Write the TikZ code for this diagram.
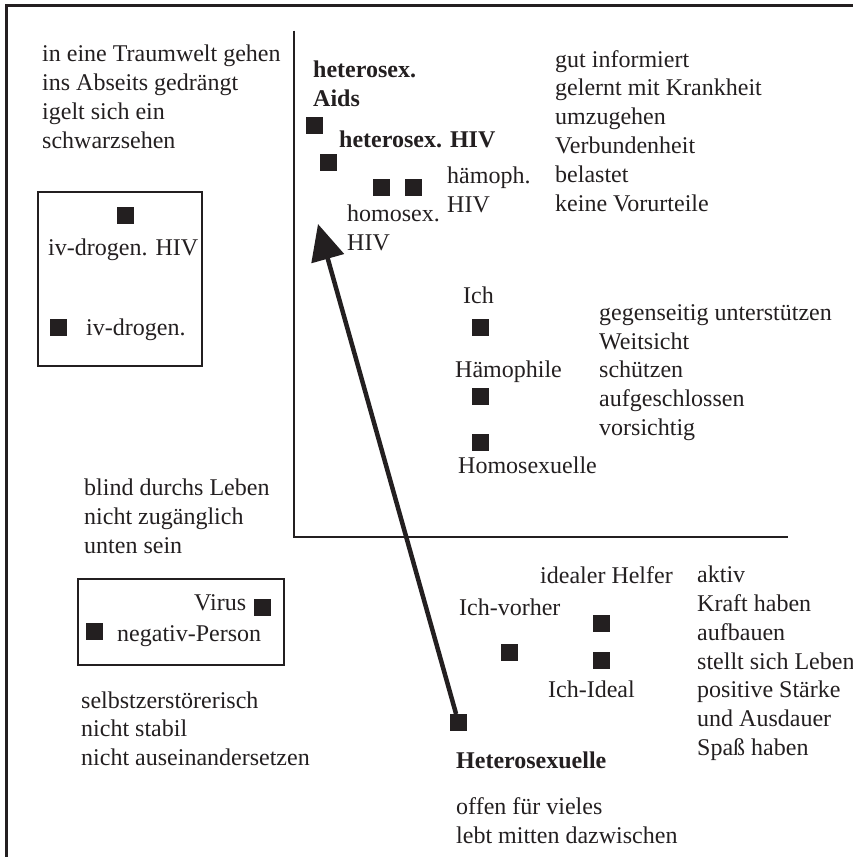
\documentclass[tikz,border=0pt]{standalone}
\usepackage{fontspec}
\setmainfont{Liberation Serif}
\usetikzlibrary{arrows.meta}
\definecolor{ink}{HTML}{231F20}
\begin{document}
\begin{tikzpicture}[x=1pt,y=-1pt,
  % multi-line texts are anchored at the baseline of their last line
  txt/.style={anchor=base west, inner sep=0pt, align=left, text=ink,
    font=\fontsize{24}{28.8}\selectfont},
  bold/.style={txt, font=\fontsize{24}{28.8}\selectfont\bfseries},
  sq/.style={fill=ink, minimum size=17pt, inner sep=0pt, outer sep=0pt},
  frame/.style={draw=ink, line width=2.6pt},
  axis/.style={draw=ink, line width=2pt},
  group/.style={draw=ink, line width=2.2pt},
  arrowline/.style={draw=ink, line width=4.5pt,
    -{Triangle[length=36pt,width=33pt]}}
]
\useasboundingbox (0,0) rectangle (853,857);

% outer frame (top and left edges)
\draw[frame] (6.5,857) -- (6.5,5.5) -- (853,5.5);

% axes
\draw[axis] (294.3,30.5) -- (294.3,536.7) -- (788,536.7);

% group boxes
\draw[group] (38,192) rectangle (202,366);
\draw[group] (78,579) rectangle (284,665);

% upper left quadrant
\node[txt] (dreamText) at (42,148.2) {in eine Traumwelt gehen\\ins Abseits gedrängt\\igelt sich ein\\schwarzsehen};
\node[sq] (ivHiv) at (125.5,215.5) {};
\node[txt] (ivHivLbl) at (48,255) {iv-drogen. HIV};
\node[sq] (iv) at (58.5,327.5) {};
\node[txt] (ivLbl) at (86,335) {iv-drogen.};

% upper right quadrant
\node[bold] (hetAidsLbl) at (313,106) {heterosex.\\Aids};
\node[sq] (hetAids) at (314.5,125) {};
\node[bold] (hetHivLbl) at (339,147) {heterosex. HIV};
\node[sq] (hetHiv) at (328.5,162.5) {};
\node[sq] (homHiv) at (381,187) {};
\node[sq] (haemHiv) at (413.5,187) {};
\node[txt] (homHivLbl) at (347,250.2) {homosex.\\HIV};
\node[txt] (haemHivLbl) at (447,212) {hämoph.\\HIV};
\node[txt] (infoText) at (555,211) {gut informiert\\gelernt mit Krankheit\\umzugehen\\Verbundenheit\\belastet\\keine Vorurteile};

\node[txt] (ichLbl) at (463,303) {Ich};
\node[sq] (ich) at (480.5,327.5) {};
\node[txt] (haemLbl) at (455,377) {Hämophile};
\node[sq] (haem) at (480.5,396) {};
\node[sq] (homo) at (480.5,442.5) {};
\node[txt] (homoLbl) at (458,473) {Homosexuelle};
\node[txt] (mutualText) at (599,435.5) {gegenseitig unterstützen\\Weitsicht\\schützen\\aufgeschlossen\\vorsichtig};

% lower left quadrant
\node[txt] (blindText) at (84,553) {blind durchs Leben\\nicht zugänglich\\unten sein};
\node[txt] (virusLbl) at (194,610) {Virus};
\node[sq] (virus) at (262,607.5) {};
\node[sq] (neg) at (94,631.5) {};
\node[txt] (negLbl) at (117,641.7) {negativ-Person};
\node[txt] (selfText) at (81,765.7) {selbstzerstörerisch\\nicht stabil\\nicht auseinandersetzen};

% lower right quadrant
\node[txt] (helperLbl) at (540,583) {idealer Helfer};
\node[txt] (beforeLbl) at (459,615) {Ich-vorher};
\node[sq] (before) at (509.5,652.5) {};
\node[sq] (helper) at (601.5,623.5) {};
\node[sq] (ideal) at (601.5,660.5) {};
\node[txt] (idealLbl) at (548,697.7) {Ich-Ideal};
\node[txt] (activeText) at (697,755.5) {aktiv\\Kraft haben\\aufbauen\\stellt sich Leben\\positive Stärke\\und Ausdauer\\Spaß haben};
\node[sq] (hetero) at (458.5,722.5) {};
\node[bold] (heteroLbl) at (456,768.3) {Heterosexuelle};
\node[txt] (openText) at (456,843.5) {offen für vieles\\lebt mitten dazwischen};

% development arrow
\coordinate (tip) at (318,224);
\draw[arrowline] (hetero) -- (tip);
\end{tikzpicture}
\end{document}
